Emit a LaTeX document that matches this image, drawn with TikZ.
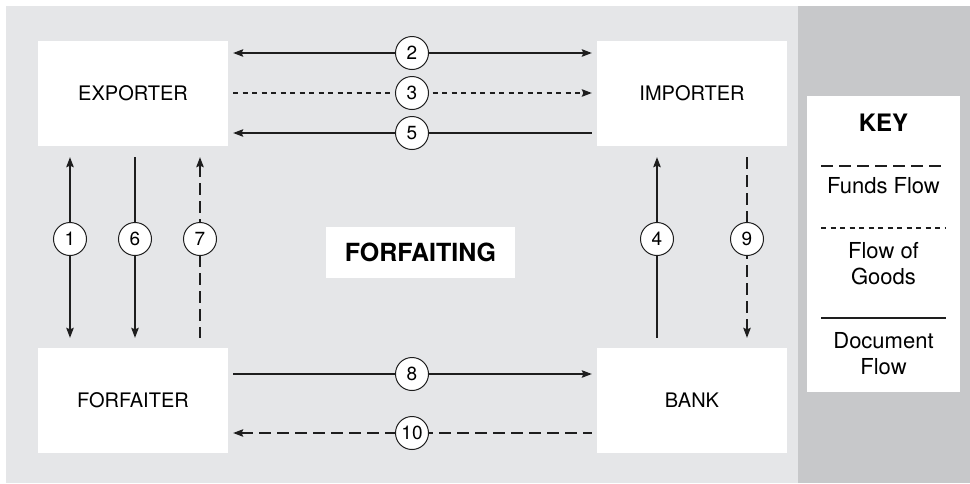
\documentclass[tikz,border=0pt]{standalone}
\usepackage{fontspec}
\setmainfont{TeX Gyre Heros}
\usetikzlibrary{arrows.meta}

\definecolor{panellight}{HTML}{E5E6E8}
\definecolor{paneldark}{HTML}{C7C8CA}
\definecolor{ink}{HTML}{1E1E1E}

\tikzset{
  party/.style={rectangle, fill=white, minimum width=190pt, minimum height=105pt,
    inner sep=0pt, font=\fontsize{20}{24}\selectfont},
  num/.style={circle, draw=ink, fill=white, line width=1pt, minimum size=33pt,
    inner sep=0pt, font=\fontsize{19}{19}\selectfont},
  flow/.style={draw=ink, line width=1.1pt, >={Stealth[length=10pt,width=7.5pt,inset=1.5pt]}},
  funds/.style={flow, dash pattern=on 12pt off 6pt},
  goods/.style={flow, dash pattern=on 5pt off 4.5pt},
  hgap/.style={shorten <=5pt, shorten >=5pt},
  vgap/.style={shorten <=11pt, shorten >=10pt},
  keytext/.style={font=\fontsize{22}{26}\selectfont, align=center, inner sep=0pt},
}

\begin{document}
\begin{tikzpicture}[x=1pt, y=-1pt]
  \useasboundingbox (0,0) rectangle (970,483);
  % background panels
  \fill[white] (0,0) rectangle (970,483);
  \fill[panellight] (6,6) rectangle (798,483);
  \fill[paneldark] (798,6) rectangle (970,483);

  % parties
  \node[party] (exp)  at (133,93.5)  {EXPORTER};
  \node[party] (imp)  at (692,93.5)  {IMPORTER};
  \node[party] (forf) at (133,400.5) {FORFAITER};
  \node[party] (bank) at (692,400.5) {BANK};

  % title
  \node[fill=white, minimum width=189pt, minimum height=51pt, inner sep=0pt,
        font=\fontsize{25}{25}\selectfont\bfseries] (title) at (420.5,252.5) {FORFAITING};

  % step markers
  \coordinate (c2) at (412,53);
  \coordinate (c3) at (412,93);
  \coordinate (c5) at (412,133);
  \coordinate (c8) at (412,374);
  \coordinate (c10) at (412,433);
  \coordinate (c1) at (70,239);
  \coordinate (c6) at (135,239);
  \coordinate (c7) at (200,239);
  \coordinate (c4) at (657,239);
  \coordinate (c9) at (747,239);

  % horizontal flows
  \draw[flow, hgap, <->] (c2 -| exp.east) -- (c2 -| imp.west);
  \draw[goods, hgap, ->] (c3 -| exp.east) -- (c3 -| imp.west);
  \draw[flow, hgap, <-]  (c5 -| exp.east) -- (c5 -| imp.west);
  \draw[flow, hgap, ->]  (c8 -| forf.east) -- (c8 -| bank.west);
  \draw[funds, hgap, <-] (c10 -| forf.east) -- (c10 -| bank.west);

  % vertical flows
  \draw[flow, vgap, <->] (c1 |- exp.south) -- (c1 |- forf.north);
  \draw[flow, vgap, ->]  (c6 |- exp.south) -- (c6 |- forf.north);
  \draw[funds, vgap, <-] (c7 |- exp.south) -- (c7 |- forf.north);
  \draw[flow, vgap, <-]  (c4 |- imp.south) -- (c4 |- bank.north);
  \draw[funds, vgap, ->] (c9 |- imp.south) -- (c9 |- bank.north);

  % numbered circles
  \foreach \n in {1,...,10} {
    \node[num] (n\n) at (c\n) {\n};
  }

  % key
  \node[fill=white, minimum width=153pt, minimum height=296pt, inner sep=0pt] (key) at (883.5,244) {};
  \node[font=\fontsize{24}{24}\selectfont\bfseries, inner sep=0pt] (keyhead) at (883.5,123) {KEY};
  \coordinate (kf1) at (821,166);  \coordinate (kf2) at (946,166);
  \coordinate (kg1) at (821,228);  \coordinate (kg2) at (946,228);
  \coordinate (kd1) at (821,318);  \coordinate (kd2) at (946,318);
  \draw[draw=ink, line width=1.1pt, dash pattern=on 12pt off 6pt] (kf1) -- (kf2);
  \draw[draw=ink, line width=1.1pt, dash pattern=on 5pt off 4.5pt] (kg1) -- (kg2);
  \draw[draw=ink, line width=1.1pt] (kd1) -- (kd2);
  \node[keytext] (kfunds) at (883.5,186) {Funds Flow};
  \node[keytext] (kgoods) at (883.5,264) {Flow of\\Goods};
  \node[keytext] (kdocs)  at (883.5,354) {Document\\Flow};
\end{tikzpicture}
\end{document}
